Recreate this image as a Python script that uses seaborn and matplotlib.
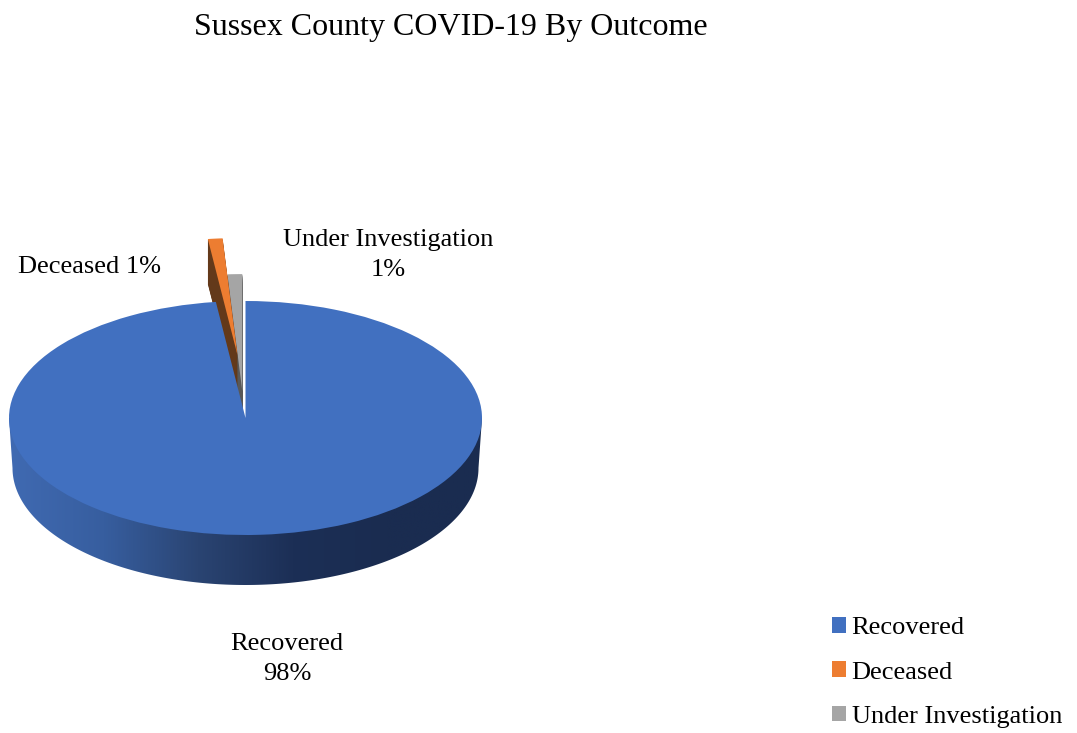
# 3D-look pie, Sussex County COVID-19 outcomes
import numpy as np
import matplotlib
matplotlib.use("Agg")
import matplotlib.pyplot as plt
from matplotlib.patches import Polygon
import seaborn as sns

categories = ["Recovered", "Deceased", "Under Investigation"]
values = [98, 1, 1]
title = "Sussex County COVID-19 By Outcome"

top_colors = ["#4170C0", "#ED7D31", "#A5A5A5"]
side_colors = ["none", "#63391A", "#585858"]

W, H = 1077, 733
CX, CY = 245.5, 418       # ellipse centre in px
RX, RY = 236.5, 117
K = RX / RY               # data units per px in y, squashes the pie
DEPTH = 50                # px, blue slab
SLICE_DEPTH = 45          # px, exploded slices
explode = [0, 0.54 * RX, 0.23 * RX]   # pie takes these in data units
nudge_x = [0, 4, -1.5]    # px, small sideways shift of each slice

sns.set_theme(style="white")
plt.rcParams["font.family"] = ["Liberation Serif", "DejaVu Serif"]

fig = plt.figure(figsize=(W / 100, H / 100), dpi=100)
ax = fig.add_axes([0, 0, 1, 1])

pie_args = dict(explode=explode, radius=RX, startangle=90, counterclock=False,
                wedgeprops=dict(linewidth=0))


def draw_pie(colors, center, zorders):
    parts, _ = ax.pie(values, colors=colors, center=center, **pie_args)
    for w, dx, z in zip(parts, nudge_x, zorders):
        w.set_center((w.center[0] + dx, w.center[1]))
        w.set_zorder(z)
    return parts


# side faces of the two small slices, stacked copies going down
for d in range(SLICE_DEPTH, 0, -1):
    draw_pie(side_colors, (CX, -d * K), [1, 1.4, 1.1])

# side of the big slab, shaded left to right
shade = sns.blend_palette(["#406AB2", "#375E9F", "#2A4472", "#1C2F56", "#1A2C50", "#1A2C50"],
                          as_cmap=True)
t = np.linspace(np.pi, 2 * np.pi, 200)
rim_x = CX + 233 * np.cos(t)
rim_y = RX * np.sin(t) - DEPTH * K
rim = np.column_stack([np.r_[CX - RX, rim_x, CX + RX], np.r_[0, rim_y, 0]])
im = ax.imshow(np.linspace(0, 1, 256)[None, :], cmap=shade, aspect="auto", zorder=2,
               extent=[CX - RX, CX + RX, rim_y.min(), 0])
im.set_clip_path(Polygon(rim, transform=ax.transData))

# top faces
wedges = draw_pie(top_colors, (CX, 0), [3, 1.5, 1.2])

ax.set_aspect("auto")
ax.set_xlim(0, W)
ax.set_ylim((CY - H) * K, CY * K)
ax.axis("off")


def px_text(x, y, s, size, **kw):
    fig.text(x / W, 1 - y / H, s, fontsize=size, color="black", **kw)


px_text(451, 27, title, 23, ha="center", va="center")
px_text(89, 267, f"{categories[1]} {values[1]}%", 19, ha="center", va="center")
px_text(388, 255, f"{categories[2]}\n{values[2]}%", 19, ha="center", va="center", linespacing=1.42)
px_text(287, 659, f"{categories[0]}\n{values[0]}%", 19, ha="center", va="center", linespacing=1.45)

ax.legend(wedges, categories, loc="upper left", bbox_to_anchor=(832 / W, 1 - 617 / H),
          frameon=False, fontsize=19, labelcolor="black", labelspacing=0.84, handlelength=0.54,
          handleheight=0.54, handletextpad=0.2, borderpad=0, borderaxespad=0)

fig.savefig("out.png", dpi=100)
